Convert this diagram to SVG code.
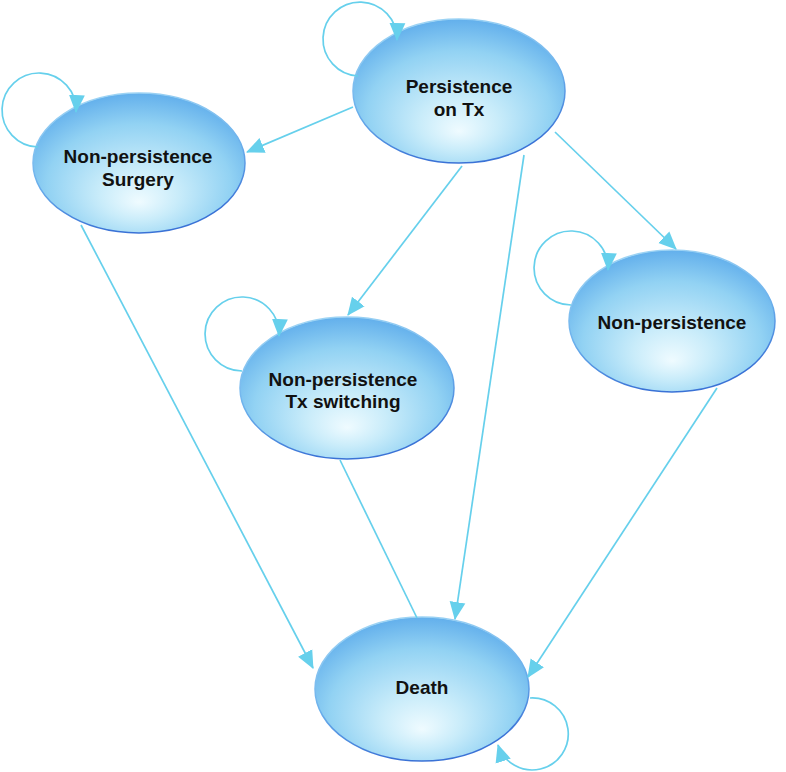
<svg xmlns="http://www.w3.org/2000/svg" width="786" height="772" viewBox="0 0 786 772">
<defs>
<radialGradient id="fill" cx="0.5" cy="0.6" r="0.62" fx="0.5" fy="0.78">
<stop offset="0" stop-color="#effbff"/>
<stop offset="0.3" stop-color="#c9ecfa"/>
<stop offset="0.7" stop-color="#92d2f3"/>
<stop offset="1" stop-color="#5eaceb"/>
</radialGradient>
<linearGradient id="rim" x1="0" y1="0" x2="0.3" y2="1">
<stop offset="0" stop-color="#a9dcf6"/>
<stop offset="0.6" stop-color="#6bb0ec"/>
<stop offset="1" stop-color="#3a72d6"/>
</linearGradient>
<marker id="arr" markerUnits="userSpaceOnUse" markerWidth="18" markerHeight="18" viewBox="0 0 17 16" refX="16" refY="8" orient="auto">
<path d="M0,0.5 L17,8 L0,15.5 z" fill="#66d0ec"/>
</marker>
</defs>
<style>
.node ellipse{fill:url(#fill);stroke:url(#rim);stroke-width:1.5}
.node text{font-family:"Liberation Sans",Arial,sans-serif;font-weight:bold;font-size:19px;fill:#111;text-anchor:middle}
.edge{fill:none;stroke:#66d0ec;stroke-width:1.7}
.arrow{marker-end:url(#arr)}
</style>
<g id="node-persistence" class="node">
<ellipse cx="459" cy="91" rx="106" ry="72"/>
<text x="459" y="93">Persistence</text>
<text x="459" y="116">on Tx</text>
</g>
<g id="node-surgery" class="node">
<ellipse cx="139" cy="163" rx="106" ry="70"/>
<text x="138" y="163">Non-persistence</text>
<text x="138" y="186">Surgery</text>
</g>
<g id="node-switching" class="node">
<ellipse cx="347" cy="388" rx="107" ry="71"/>
<text x="343" y="386">Non-persistence</text>
<text x="343" y="408">Tx switching</text>
</g>
<g id="node-nonpersistence" class="node">
<ellipse cx="672" cy="321" rx="103" ry="71"/>
<text x="672" y="329">Non-persistence</text>
</g>
<g id="node-death" class="node">
<ellipse cx="422" cy="689" rx="107" ry="72"/>
<text x="422" y="694">Death</text>
</g>
<g id="connectors">
<path class="edge arrow" d="M353 107 L247 152"/>
<path class="edge arrow" d="M462 166 L348 315"/>
<path class="edge arrow" d="M524 155 L455 619"/>
<path class="edge arrow" d="M555 132 L676 249"/>
<path class="edge arrow" d="M81 225 L313 668"/>
<path class="edge" d="M340 460 L417 618"/>
<path class="edge arrow" d="M717 388 L528 677"/>
<path class="edge arrow" d="M358 76 A37 37 0 1 1 397 40"/>
<path class="edge arrow" d="M38 147 A37 37 0 1 1 76 112"/>
<path class="edge arrow" d="M242 371 A37 37 0 1 1 279 336"/>
<path class="edge arrow" d="M571 305 A37 37 0 1 1 608 270"/>
<path class="edge arrow" d="M530 698 A36 36 0 1 1 498 745"/>
</g>
</svg>
